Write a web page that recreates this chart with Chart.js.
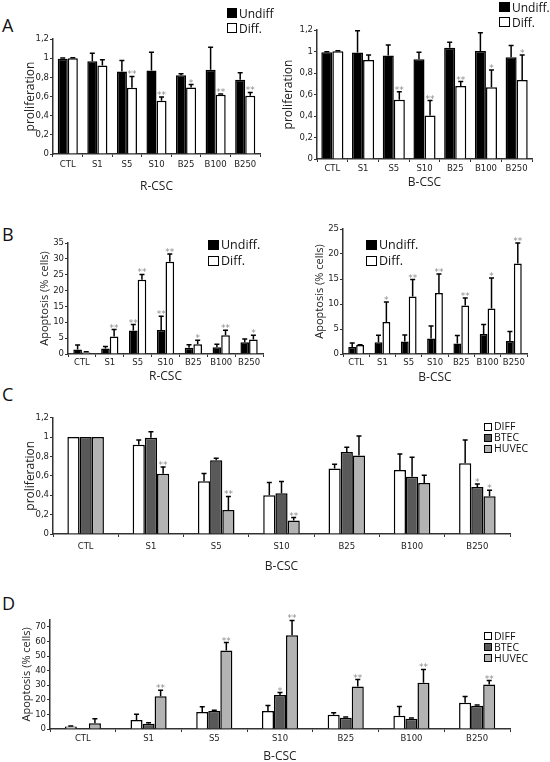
<!DOCTYPE html>
<html lang="en">
<head>
<meta charset="UTF-8">
<title>Proliferation and apoptosis of CSC</title>
<script src="https://cdn.jsdelivr.net/npm/chart.js"></script>
<style>
  body { margin: 0; width: 550px; height: 762px; overflow: hidden; background: #fff; position: relative; font-family: 'Open Sans', Arial, sans-serif; color: #111; }
  canvas { position: absolute; }
  .letter { position: absolute; left: 2px; font-size: 18px; line-height: 18px; }
  .legend { position: absolute; white-space: nowrap; }
  .legend div { display: flex; align-items: center; }
  .sw { display: inline-block; box-sizing: border-box; border: 1px solid #000; margin-right: 2px; }
</style>
</head>
<body>
<div class="letter" style="top:16px">A</div>
<div class="letter" style="top:225px">B</div>
<div class="letter" style="top:385px">C</div>
<div class="letter" style="top:594px">D</div>

<canvas id="aLeft" width="275" height="200" style="left:0;top:0"></canvas>
<canvas id="aRight" width="275" height="200" style="left:275px;top:0"></canvas>
<canvas id="bLeft" width="275" height="200" style="left:0;top:190px"></canvas>
<canvas id="bRight" width="275" height="200" style="left:275px;top:190px"></canvas>
<canvas id="cChart" width="550" height="195" style="left:0;top:390px"></canvas>
<canvas id="dChart" width="550" height="200" style="left:0;top:570px"></canvas>

<div class="legend" style="left:227px;top:5.5px;font-size:12px;line-height:15px">
  <div><span class="sw" style="width:10px;height:10px;background:#000"></span>Undiff</div>
  <div><span class="sw" style="width:10px;height:10px;background:#fff"></span>Diff.</div>
</div>
<div class="legend" style="left:499px;top:-0.5px;font-size:12px;line-height:15px">
  <div><span class="sw" style="width:11px;height:10px;background:#000"></span>Undiff.</div>
  <div><span class="sw" style="width:11px;height:10px;background:#fff"></span>Diff.</div>
</div>
<div class="legend" style="left:208px;top:236.5px;font-size:12.5px;line-height:16px">
  <div><span class="sw" style="width:11px;height:10px;background:#000"></span>Undiff.</div>
  <div><span class="sw" style="width:11px;height:10px;background:#fff"></span>Diff.</div>
</div>
<div class="legend" style="left:366px;top:237px;font-size:12.5px;line-height:16px">
  <div><span class="sw" style="width:11px;height:10px;background:#000"></span>Undiff.</div>
  <div><span class="sw" style="width:11px;height:10px;background:#fff"></span>Diff.</div>
</div>
<div class="legend" style="left:484px;top:421px;font-size:10.5px;line-height:11px">
  <div><span class="sw" style="width:8px;height:8px;background:#fff"></span>DIFF</div>
  <div><span class="sw" style="width:8px;height:8px;background:#595959"></span>BTEC</div>
  <div><span class="sw" style="width:8px;height:8px;background:#b3b3b3"></span>HUVEC</div>
</div>
<div class="legend" style="left:484px;top:630.5px;font-size:10.5px;line-height:11px">
  <div><span class="sw" style="width:8px;height:8px;background:#fff"></span>DIFF</div>
  <div><span class="sw" style="width:8px;height:8px;background:#595959"></span>BTEC</div>
  <div><span class="sw" style="width:8px;height:8px;background:#b3b3b3"></span>HUVEC</div>
</div>

<script>
    const categories = ['CTL', 'S1', 'S5', 'S10', 'B25', 'B100', 'B250'];

    // y tick values of each panel
    const prolifTicks = [0, 0.2, 0.4, 0.6, 0.8, 1, 1.2];
    const apoRTicks = [0, 5, 10, 15, 20, 25, 30, 35];
    const apoBTicks = [0, 5, 10, 15, 20, 25];
    const apoDTicks = [0, 10, 20, 30, 40, 50, 60, 70];

    // A - proliferation, R-CSC
    const aRUndiff = [0.993, 0.969, 0.861, 0.872, 0.823, 0.878, 0.774];
    const aRUndiffErr = [0.01, 0.083, 0.115, 0.19, 0.014, 0.235, 0.073];
    const aRDiff = [1.0, 0.924, 0.691, 0.556, 0.694, 0.618, 0.608];
    const aRDiffErr = [0.005, 0.059, 0.118, 0.038, 0.031, 0.007, 0.035];
    const aRDiffSig = ['', '', '**', '**', '*', '**', '**'];

    // A - proliferation, B-CSC
    const aBUndiff = [0.993, 0.99, 0.962, 0.928, 1.036, 1.005, 0.946];
    const aBUndiffErr = [0.005, 0.204, 0.099, 0.065, 0.05, 0.17, 0.109];
    const aBDiff = [1.002, 0.922, 0.551, 0.405, 0.68, 0.668, 0.736];
    const aBDiffErr = [0.005, 0.046, 0.074, 0.139, 0.04, 0.161, 0.232];
    const aBDiffSig = ['', '', '**', '**', '**', '*', '*'];

    // B - apoptosis, R-CSC
    const bRUndiff = [1.4, 1.7, 7.4, 7.6, 2.0, 2.1, 3.7];
    const bRUndiffErr = [1.4, 0.7, 1.9, 4.3, 0.9, 0.95, 1.0];
    const bRUndiffSig = ['', '', '**', '**', '', '', ''];
    const bRDiff = [0.5, 5.5, 23.4, 29.1, 3.05, 5.9, 4.6];
    const bRDiffErr = [0.2, 2.2, 1.7, 2.4, 1.25, 1.6, 1.3];
    const bRDiffSig = ['', '**', '**', '**', '*', '**', '*'];

    // B - apoptosis, B-CSC
    const bBUndiff = [1.4, 2.33, 2.5, 3.1, 2.1, 4.0, 2.6];
    const bBUndiffErr = [0.8, 1.4, 1.3, 2.5, 1.6, 1.9, 1.9];
    const bBDiff = [1.8, 6.4, 11.5, 12.2, 9.7, 9.1, 18.1];
    const bBDiffErr = [0.05, 4.0, 3.4, 3.8, 1.5, 6.1, 4.1];
    const bBDiffSig = ['', '*', '**', '**', '**', '*', '**'];

    // C - proliferation vs endothelial cells, B-CSC
    const cDiff = [1, 0.92, 0.543, 0.40, 0.674, 0.66, 0.73];
    const cDiffErr = [0, 0.05, 0.08, 0.13, 0.045, 0.165, 0.24];
    const cBtec = [1, 0.993, 0.76, 0.42, 0.845, 0.59, 0.485];
    const cBtecErr = [0, 0.06, 0.02, 0.12, 0.05, 0.2, 0.03];
    const cBtecSig = ['', '', '', '', '', '', '*'];
    const cHuvec = [1, 0.62, 0.247, 0.14, 0.81, 0.526, 0.39];
    const cHuvecErr = [0, 0.07, 0.14, 0.03, 0.2, 0.08, 0.06];
    const cHuvecSig = ['', '**', '**', '**', '', '', '*'];

    // D - apoptosis vs endothelial cells, B-CSC
    const dDiff = [1.8, 6.1, 11.6, 12.3, 9.8, 9.1, 18.0];
    const dDiffErr = [0.3, 4.1, 3.6, 3.8, 1.3, 6.4, 4.3];
    const dBtec = [0, 3.6, 12.3, 23.4, 7.7, 7.0, 15.9];
    const dBtecErr = [0, 0.7, 0.5, 1.6, 0.5, 0.5, 0.5];
    const dBtecSig = ['', '', '', '*', '', '', ''];
    const dHuvec = [3.9, 22.5, 53.9, 64.3, 29.1, 31.8, 30.5];
    const dHuvecErr = [3.1, 4.1, 5.4, 10.2, 4.8, 9.1, 2.7];
    const dHuvecSig = ['', '**', '**', '**', '**', '**', '**'];

    const noSig = ['', '', '', '', '', '', ''];

    // draws the one-sided error bars and the significance stars above them
    const errorBars = {
        id: 'errorBars',
        afterDatasetsDraw(chart) {
            const ctx = chart.ctx;
            const y = chart.scales.y;
            ctx.save();
            chart.data.datasets.forEach((ds, i) => {
                chart.getDatasetMeta(i).data.forEach((bar, j) => {
                    const err = ds.errors[j];
                    const top = y.getPixelForValue(ds.data[j] + err);
                    if (err > 0) {
                        ctx.strokeStyle = '#000';
                        ctx.lineWidth = 1.5;
                        ctx.beginPath();
                        ctx.moveTo(bar.x, bar.y);
                        ctx.lineTo(bar.x, top);
                        ctx.moveTo(bar.x - 2.5, top);
                        ctx.lineTo(bar.x + 2.5, top);
                        ctx.stroke();
                    }
                    if (ds.sig[j]) {
                        ctx.fillStyle = '#8c8c8c';
                        ctx.font = '9px "DejaVu Sans"';
                        ctx.textAlign = 'center';
                        ctx.textBaseline = 'alphabetic';
                        ctx.fillText(ds.sig[j], bar.x, top + 1);
                    }
                });
            });
            ctx.restore();
        }
    };

    function bars(label, data, errors, sig, color) {
        return {
            label: label, data: data, errors: errors, sig: sig,
            backgroundColor: color, borderColor: '#000', borderWidth: 1.5
        };
    }

    function comma(v) {
        return String(Number(v.toFixed(1))).replace('.', ',');
    }

    function makeChart(id, o) {
        return new Chart(document.getElementById(id), {
            type: 'bar',
            data: { labels: categories, datasets: o.datasets },
            options: {
                responsive: false,
                animation: false,
                layout: { padding: { top: o.top, right: o.right, left: 0, bottom: 0 } },
                plugins: { legend: { display: false }, tooltip: { enabled: false } },
                datasets: { bar: { categoryPercentage: o.catPct, barPercentage: 1 } },
                scales: {
                    x: {
                        grid: { drawOnChartArea: false, tickLength: 3, color: '#333' },
                        border: { color: '#333', width: 1.5 },
                        ticks: { padding: o.xPad, color: '#222', font: { family: 'DejaVu Sans', size: 8.5 }, maxRotation: 0, autoSkip: false },
                        title: { display: true, text: o.xTitle, color: '#222', font: { family: 'Open Sans', size: 12 }, padding: { top: 0, bottom: o.xTitlePad } },
                        afterFit: s => { s.height = o.xHeight; }
                    },
                    y: {
                        min: 0, max: o.max,
                        grid: { drawOnChartArea: false, tickLength: 3, color: '#333' },
                        border: { color: '#333', width: 1.5 },
                        ticks: { autoSkip: false, padding: 1, color: '#222', font: { family: 'DejaVu Sans', size: 8.5 }, callback: v => comma(v) },
                        afterBuildTicks: s => { s.ticks = o.ticks.map(v => ({ value: v })); },
                        title: { display: true, text: o.yTitle, color: '#222', font: { family: 'Open Sans', size: o.yTitleSize }, padding: { top: o.yTitlePad, bottom: 0 } },
                        afterFit: s => { s.width = o.yWidth; }
                    }
                }
            },
            plugins: [errorBars]
        });
    }

    makeChart('aLeft', {
        datasets: [bars('Undiff', aRUndiff, aRUndiffErr, noSig, '#000'), bars('Diff.', aRDiff, aRDiffErr, aRDiffSig, '#fff')],
        top: 39, right: 15, yWidth: 53, xHeight: 46, catPct: 0.68, xPad: 3,
        max: 1.2, ticks: prolifTicks, xTitle: 'R-CSC', xTitlePad: 6, yTitle: 'proliferation', yTitleSize: 12, yTitlePad: 23
    });

    makeChart('aRight', {
        datasets: [bars('Undiff.', aBUndiff, aBUndiffErr, noSig, '#000'), bars('Diff.', aBDiff, aBDiffErr, aBDiffSig, '#fff')],
        top: 30, right: 18, yWidth: 42, xHeight: 41, catPct: 0.72, xPad: 2,
        max: 1.2, ticks: prolifTicks, xTitle: 'B-CSC', xTitlePad: 10, yTitle: 'proliferation', yTitleSize: 12, yTitlePad: 6
    });

    makeChart('bLeft', {
        datasets: [bars('Undiff.', bRUndiff, bRUndiffErr, bRUndiffSig, '#000'), bars('Diff.', bRDiff, bRDiffErr, bRDiffSig, '#fff')],
        top: 53, right: 12, yWidth: 68, xHeight: 36, catPct: 0.62, xPad: 1,
        max: 35, ticks: apoRTicks, xTitle: 'R-CSC', xTitlePad: 6, yTitle: 'Apoptosis (% cells)', yTitleSize: 11, yTitlePad: 38
    });

    makeChart('bRight', {
        datasets: [bars('Undiff.', bBUndiff, bBUndiffErr, noSig, '#000'), bars('Diff.', bBDiff, bBDiffErr, bBDiffSig, '#fff')],
        top: 39, right: 23, yWidth: 68, xHeight: 36, catPct: 0.6, xPad: 1,
        max: 25, ticks: apoBTicks, xTitle: 'B-CSC', xTitlePad: 5, yTitle: 'Apoptosis (% cells)', yTitleSize: 11, yTitlePad: 38
    });

    makeChart('cChart', {
        datasets: [
            bars('DIFF', cDiff, cDiffErr, noSig, '#fff'),
            bars('BTEC', cBtec, cBtecErr, cBtecSig, '#595959'),
            bars('HUVEC', cHuvec, cHuvecErr, cHuvecSig, '#b3b3b3')
        ],
        top: 27.6, right: 40, yWidth: 53, xHeight: 51, catPct: 0.56, xPad: 5,
        max: 1.2, ticks: prolifTicks, xTitle: 'B-CSC', xTitlePad: 11, yTitle: 'proliferation', yTitleSize: 12, yTitlePad: 23
    });

    makeChart('dChart', {
        datasets: [
            bars('DIFF', dDiff, dDiffErr, noSig, '#fff'),
            bars('BTEC', dBtec, dBtecErr, dBtecSig, '#595959'),
            bars('HUVEC', dHuvec, dHuvecErr, dHuvecSig, '#b3b3b3')
        ],
        top: 49.7, right: 40, yWidth: 50, xHeight: 41, catPct: 0.55, xPad: 2,
        max: 75, ticks: apoDTicks, xTitle: 'B-CSC', xTitlePad: 6, yTitle: 'Apoptosis (% cells)', yTitleSize: 11, yTitlePad: 20
    });
</script>
</body>
</html>
